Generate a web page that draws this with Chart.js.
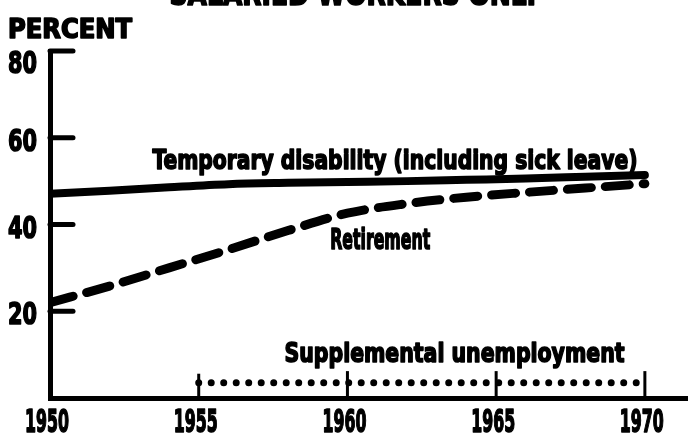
<!DOCTYPE html>
<html>
<head>
<meta charset="utf-8">
<script src="https://cdn.jsdelivr.net/npm/chart.js@4/dist/chart.umd.min.js"></script>
<style>
  html, body { margin: 0; padding: 0; background: #ffffff; }
  #wrap { width: 688px; height: 437px; position: relative; }
</style>
</head>
<body>
<div id="wrap"><canvas id="c" width="688" height="437"></canvas></div>
<script>
// ---- data ----
const years       = [1950, 1952, 1954, 1956, 1958, 1960, 1962, 1964, 1966, 1968, 1970];
const temporary   = [47.1, 47.8, 48.6, 49.3, 49.6, 49.8, 50.0, 50.3, 50.6, 51.0, 51.4];
const retirement  = [22.0, 25.8, 30.0, 34.2, 38.6, 42.6, 44.8, 46.3, 47.4, 48.4, 49.4];
const supplementalYears = [1955, 1960, 1965, 1970];
const supplemental      = [3.5, 3.5, 3.5, 3.5];
const xTickLabels = [1950, 1955, 1960, 1965, 1970];
const yTickLabels = [20, 40, 60, 80];
const titleText = "SALARIED WORKERS ONLY";
const yAxisTitle = "PERCENT";
const labelTemporary = "Temporary disability (including sick leave)";
const labelRetirement = "Retirement";
const labelSupplemental = "Supplemental unemployment";

const FONT = "'DejaVu Sans Condensed', 'Liberation Sans Narrow', sans-serif";

function pts(xs, ys) { return xs.map((x, i) => ({ x: x, y: ys[i] })); }

const decor = {
  id: 'decor',
  afterDatasetsDraw(chart) {
    const ctx = chart.ctx;
    const xs = chart.scales.x, ys = chart.scales.y;
    const left = chart.chartArea.left;
    ctx.save();
    ctx.strokeStyle = '#000';
    ctx.fillStyle = '#000';
    ctx.lineCap = 'round';
    // inward y ticks
    ctx.lineWidth = 5;
    ys.ticks.forEach(t => {
      const py = ys.getPixelForValue(t.value);
      ctx.beginPath();
      ctx.moveTo(left, py);
      ctx.lineTo(left + 23, py);
      ctx.stroke();
    });
    // bracket markers of the supplemental series
    ctx.lineWidth = 3;
    ctx.lineCap = 'butt';
    supplementalYears.forEach((yr, i) => {
      const px = xs.getPixelForValue(yr);
      ctx.beginPath();
      ctx.moveTo(px, ys.getPixelForValue(0));
      ctx.lineTo(px, ys.getPixelForValue(i === 0 ? 5.6 : 6.2));
      ctx.stroke();
    });
    // texts
    ctx.lineJoin = 'round';
    ctx.lineWidth = 1.6;
    function txt(s, x, y, size, align, base, maxW) {
      ctx.font = 'bold ' + size + 'px ' + FONT;
      ctx.textAlign = align;
      ctx.textBaseline = base;
      ctx.fillText(s, x, y, maxW);
      ctx.strokeText(s, x, y, maxW);
    }
    // tick labels, placed by the scales
    xs.ticks.forEach(t => {
      txt(String(t.value), xs.getPixelForValue(t.value) - 3, 432, 32, 'center', 'alphabetic', 44);
    });
    ys.ticks.forEach(t => {
      const py = ys.getPixelForValue(t.value) + (t.value === 80 ? 11 : 2);
      txt(String(t.value), 37, py + 11, 31, 'right', 'alphabetic', 29);
    });
    txt(titleText, 355, 5, 32, 'center', 'alphabetic', 371);
    txt(yAxisTitle, 8, 38, 27, 'left', 'alphabetic', 124);
    txt(labelTemporary, xs.getPixelForValue(1961.6), ys.getPixelForValue(52.9), 27, 'center', 'alphabetic', 485);
    txt(labelRetirement, xs.getPixelForValue(1961.1), ys.getPixelForValue(34.3), 29, 'center', 'alphabetic', 100);
    txt(labelSupplemental, xs.getPixelForValue(1963.6), ys.getPixelForValue(8.2), 27, 'center', 'alphabetic', 340);
    ctx.restore();
  }
};

new Chart(document.getElementById('c'), {
  type: 'line',
  data: {
    datasets: [
      {
        label: labelTemporary,
        data: pts(years, temporary),
        borderColor: '#000',
        borderWidth: 8,
        pointRadius: 0,
        cubicInterpolationMode: 'monotone',
        borderCapStyle: 'round',
        fill: false
      },
      {
        label: labelRetirement,
        data: pts(years, retirement),
        borderColor: '#000',
        borderWidth: 9,
        borderDash: [24, 14],
        borderCapStyle: 'round',
        pointRadius: 0,
        cubicInterpolationMode: 'monotone',
        fill: false
      },
      {
        label: labelSupplemental,
        data: pts(supplementalYears, supplemental),
        borderColor: '#000',
        borderWidth: 7,
        borderDash: [0, 12.5],
        borderCapStyle: 'round',
        pointRadius: 0,
        fill: false
      }
    ]
  },
  options: {
    responsive: false,
    animation: false,
    events: [],
    layout: { padding: { top: 51, left: 0, right: 0, bottom: 0 } },
    plugins: {
      legend: { display: false },
      tooltip: { enabled: false },
      title: { display: false }
    },
    scales: {
      x: {
        type: 'linear',
        min: 1950,
        max: 1971.45,
        afterBuildTicks: (s) => { s.ticks = xTickLabels.map(v => ({ value: v })); },
        afterFit: (s) => { s.height = 39; },
        grid: { display: false, drawTicks: false },
        border: { display: true, color: '#000', width: 5 },
        ticks: { display: false }
      },
      y: {
        min: 0,
        max: 80,
        afterBuildTicks: (s) => { s.ticks = yTickLabels.map(v => ({ value: v })); },
        afterFit: (s) => { s.width = 50; },
        grid: { display: false, drawTicks: false },
        border: { display: true, color: '#000', width: 5 },
        ticks: { display: false }
      }
    }
  },
  plugins: [decor]
});
</script>
</body>
</html>
